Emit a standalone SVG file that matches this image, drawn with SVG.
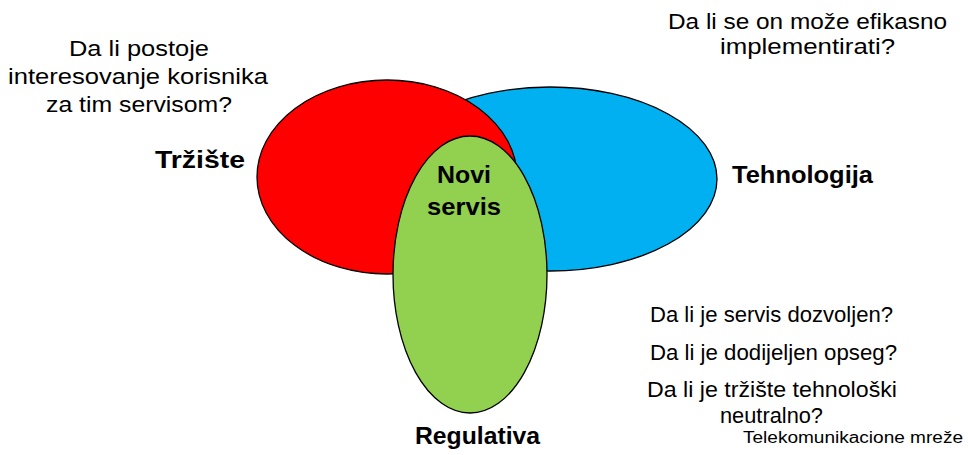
<svg xmlns="http://www.w3.org/2000/svg" width="968" height="455" viewBox="0 0 968 455">
<style>
.sh{stroke:#000;stroke-width:1.3}
.t{font-family:"Liberation Sans",Arial,sans-serif;fill:#000;font-size:22px}
.b{font-family:"Liberation Sans",Arial,sans-serif;fill:#000;font-size:24px;font-weight:bold}
.s{font-family:"Liberation Sans",Arial,sans-serif;fill:#000;font-size:16px}
</style>
<rect width="968" height="455" fill="#fff"/>
<g id="tehnologija">
<ellipse class="sh" cx="550" cy="179" rx="167" ry="92" fill="#00B0F0"/>
<text class="b" x="732" y="183" textLength="141" lengthAdjust="spacingAndGlyphs">Tehnologija</text>
</g>
<g id="trziste">
<ellipse class="sh" cx="387" cy="177" rx="130" ry="97" fill="#FF0000"/>
<text class="b" x="155" y="168" textLength="90" lengthAdjust="spacingAndGlyphs">Tržište</text>
</g>
<g id="regulativa">
<ellipse class="sh" cx="470" cy="274.5" rx="77" ry="138.5" fill="#92D050"/>
<text class="b" x="415" y="444" textLength="125" lengthAdjust="spacingAndGlyphs">Regulativa</text>
</g>
<g id="novi-servis">
<text class="b" x="437" y="183" textLength="54" lengthAdjust="spacingAndGlyphs">Novi</text>
<text class="b" x="427" y="215" textLength="74" lengthAdjust="spacingAndGlyphs">servis</text>
</g>
<g id="pitanje-trziste">
<text class="t" x="69" y="56" textLength="140" lengthAdjust="spacingAndGlyphs">Da li postoje</text>
<text class="t" x="8" y="84" textLength="260" lengthAdjust="spacingAndGlyphs">interesovanje korisnika</text>
<text class="t" x="46" y="112" textLength="186" lengthAdjust="spacingAndGlyphs">za tim servisom?</text>
</g>
<g id="pitanje-tehnologija">
<text class="t" x="668" y="29" textLength="279" lengthAdjust="spacingAndGlyphs">Da li se on može efikasno</text>
<text class="t" x="720" y="54" textLength="175" lengthAdjust="spacingAndGlyphs">implementirati?</text>
</g>
<g id="pitanja-regulativa">
<text class="t" x="650" y="322" textLength="243" lengthAdjust="spacingAndGlyphs">Da li je servis dozvoljen?</text>
<text class="t" x="650" y="360" textLength="247" lengthAdjust="spacingAndGlyphs">Da li je dodijeljen opseg?</text>
<text class="t" x="647" y="397" textLength="250" lengthAdjust="spacingAndGlyphs">Da li je tržište tehnološki</text>
<text class="t" x="720" y="423" textLength="103" lengthAdjust="spacingAndGlyphs">neutralno?</text>
</g>
<g id="footer">
<text class="s" x="743" y="443" textLength="220" lengthAdjust="spacingAndGlyphs">Telekomunikacione mreže</text>
</g>
<g id="connectors"></g>
</svg>
